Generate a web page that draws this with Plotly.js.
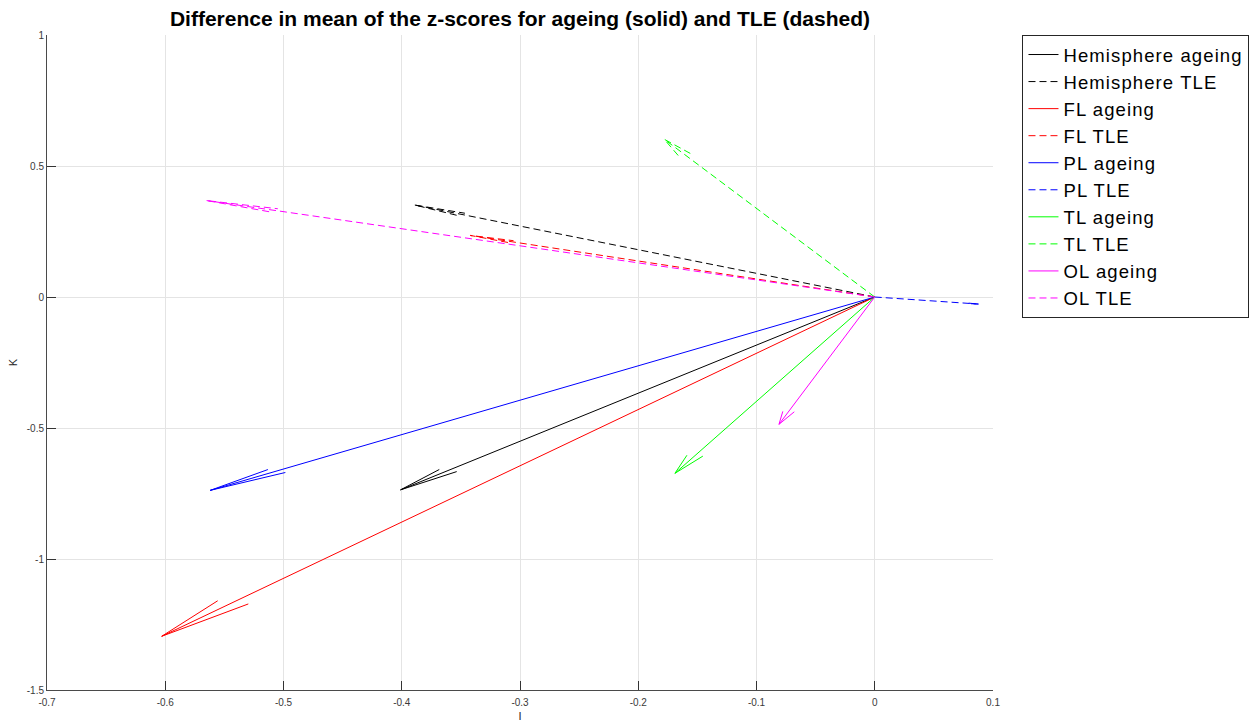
<!DOCTYPE html>
<html>
<head>
<meta charset="utf-8">
<script src="https://cdn.plot.ly/plotly-3.0.1.min.js"></script>
<style>
  html, body { margin: 0; padding: 0; background: #ffffff; }
  #chart { width: 1260px; height: 723px; }
  .legendtext { letter-spacing: 1.1px; }
</style>
</head>
<body>
<div id="chart"></div>
<script>
// Regions, each with an ageing vector and a TLE vector starting at the origin
const regions = ['Hemisphere', 'FL', 'PL', 'TL', 'OL'];
const regionColors = ['#000000', '#ff0000', '#0000ff', '#00ff00', '#ff00ff'];

// Difference in mean z-score along I (u) and K (v)
const ageingI = [-0.401, -0.603, -0.562, -0.169, -0.081];
const ageingK = [-0.736, -1.295, -0.738, -0.673, -0.486];
const tleI = [-0.389, -0.342, 0.088, -0.178, -0.565];
const tleK = [0.351, 0.235, -0.027, 0.602, 0.368];

// Axis ticks
const xTicks = [-0.7, -0.6, -0.5, -0.4, -0.3, -0.2, -0.1, 0, 0.1];
const xTickLabels = ['-0.7', '-0.6', '-0.5', '-0.4', '-0.3', '-0.2', '-0.1', '0', '0.1'];
const yTicks = [1, 0.5, 0, -0.5, -1, -1.5];
const yTickLabels = ['1', '0.5', '0', '-0.5', '-1', '-1.5'];

// quiver-style arrow: shaft from origin plus two head barbs
const HEAD_LEN = 0.1, HEAD_WIDTH = 0.1;
function arrowPath(u, v) {
  const tipX = u, tipY = v;
  const b1x = tipX - HEAD_LEN * (u + HEAD_WIDTH * v);
  const b1y = tipY - HEAD_LEN * (v - HEAD_WIDTH * u);
  const b2x = tipX - HEAD_LEN * (u - HEAD_WIDTH * v);
  const b2y = tipY - HEAD_LEN * (v + HEAD_WIDTH * u);
  return {
    x: [0, tipX, null, b1x, tipX, b2x],
    y: [0, tipY, null, b1y, tipY, b2y]
  };
}

const traces = [];
regions.forEach((name, i) => {
  const a = arrowPath(ageingI[i], ageingK[i]);
  traces.push({
    type: 'scatter', mode: 'lines', name: name + ' ageing',
    x: a.x, y: a.y,
    line: { color: regionColors[i], width: 1 },
    hoverinfo: 'skip'
  });
  const t = arrowPath(tleI[i], tleK[i]);
  traces.push({
    type: 'scatter', mode: 'lines', name: name + ' TLE',
    x: t.x, y: t.y,
    line: { color: regionColors[i], width: 1, dash: '7px,4px' },
    hoverinfo: 'skip'
  });
});

const axisCommon = {
  showgrid: true, gridcolor: '#e4e4e4', gridwidth: 1,
  zeroline: false,
  showline: true, linecolor: '#4a4a4a', linewidth: 1,
  ticks: 'inside', ticklen: 9, tickwidth: 1, tickcolor: '#333333',
  tickfont: { family: 'Liberation Sans, Arial, sans-serif', size: 10, color: '#3a3a3a' },
  tickmode: 'array', mirror: false, fixedrange: true
};

const layout = {
  width: 1260, height: 723,
  margin: { l: 47, r: 266.5, t: 35, b: 32.7, pad: 0, autoexpand: false },
  paper_bgcolor: '#ffffff', plot_bgcolor: '#ffffff',
  font: { family: 'Liberation Sans, Arial, sans-serif', color: '#000000' },
  title: {
    text: 'Difference in mean of the z-scores for ageing (solid) and TLE (dashed)',
    font: { family: 'Liberation Sans, Arial, sans-serif', size: 21, weight: 'bold', color: '#000000' },
    x: 0.5, xref: 'paper', xanchor: 'center',
    y: 1 - 19 / 723, yref: 'container', yanchor: 'middle'
  },
  xaxis: Object.assign({}, axisCommon, {
    range: [-0.7, 0.1], tickvals: xTicks, ticktext: xTickLabels,
    ticklabelstandoff: 3,
    title: { text: 'I', standoff: 5, font: { size: 11, color: '#262626' } }
  }),
  yaxis: Object.assign({}, axisCommon, {
    range: [-1.5, 1], tickvals: yTicks, ticktext: yTickLabels,
    title: { text: 'K', standoff: 6, font: { size: 11, color: '#262626' } }
  }),
  showlegend: true,
  legend: {
    x: (1023 - 47) / 946.5, xanchor: 'left',
    y: 1, yanchor: 'top',
    bgcolor: '#ffffff', bordercolor: '#262626', borderwidth: 1,
    font: { family: 'Liberation Sans, Arial, sans-serif', size: 18.5, color: '#000000' },
    tracegroupgap: 0, traceorder: 'normal'
  }
};

Plotly.newPlot('chart', traces, layout, { displayModeBar: false, staticPlot: true });
</script>
</body>
</html>
